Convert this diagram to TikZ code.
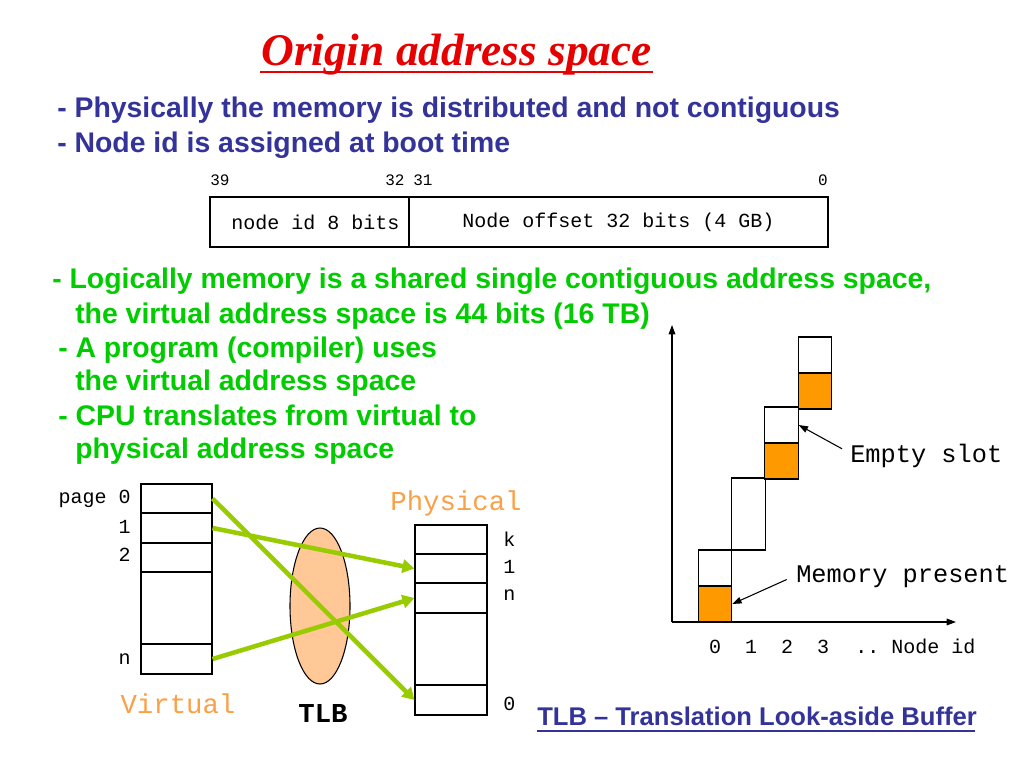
\documentclass[tikz,border=0pt]{standalone}
\usepackage{fontspec}
\setmainfont{Liberation Sans}
\setmonofont{Liberation Mono}
\newfontfamily\titlefont{Liberation Serif}
\usetikzlibrary{arrows.meta,shapes.geometric}
\definecolor{titlered}{RGB}{230,0,0}
\definecolor{textblue}{RGB}{51,51,153}
\definecolor{textgreen}{RGB}{0,204,0}
\definecolor{mapgreen}{RGB}{153,204,0}
\definecolor{tlbfill}{RGB}{255,200,150}
\definecolor{memorange}{RGB}{255,153,0}
\definecolor{labelorange}{RGB}{250,160,70}
\begin{document}
\begin{tikzpicture}[x=.75pt, y=-.75pt,
    txt/.style={inner sep=0, anchor=base west},
    bullet/.style={txt, font=\fontsize{21.3}{25}\selectfont\bfseries},
    mono/.style={inner sep=0, font=\ttfamily\fontsize{#1}{#1}\selectfont},
    cell/.style={draw, line width=.8pt, inner sep=0, minimum width=53.25pt, minimum height=#1},
    slot/.style={draw, line width=.8pt, inner sep=0, minimum width=25pt, minimum height=#1},
    mapping/.style={mapgreen, line width=3.4pt, -{Triangle[length=9pt, width=10pt]}},
    axis/.style={line width=.8pt, -{Triangle[length=7pt, width=5pt]}},
    pointer/.style={line width=.8pt, -{Triangle[length=7pt, width=5pt]}}]
  \useasboundingbox (0,0) rectangle (1024,768);
  % title
  \node[txt, titlered, font=\titlefont\fontsize{34}{40}\selectfont\bfseries\itshape] (title) at (261,65) {Origin address space};
  \draw[titlered, line width=1.9pt] (260,72) -- (653,72);
  % physical layout
  \node[bullet, textblue] (phys1) at (57,117) {- Physically the memory is distributed and not contiguous};
  \node[bullet, textblue] (phys2) at (57,152) {- Node id is assigned at boot time};
  \node[mono=12, anchor=base west] (b39) at (210,185) {39};
  \node[mono=12, anchor=base west] (b32) at (385,185) {32};
  \node[mono=12, anchor=base west] (b31) at (413,185) {31};
  \node[mono=12, anchor=base east] (b0) at (828,185) {0};
  \node[draw, line width=.8pt, inner sep=0, minimum width=149.25pt, minimum height=37.5pt, mono=15] (idfield) at (309.5,222) {\ node id 8 bits};
  \node[draw, line width=.8pt, inner sep=0, minimum width=314.25pt, minimum height=37.5pt, mono=15] (offfield) at (618.5,222) {Node offset 32 bits (4 GB)};
  % logical view
  \node[bullet, textgreen] (log1) at (52,288) {- Logically memory is a shared single contiguous address space,};
  \node[bullet, textgreen] (log2) at (75,323) {the virtual address space is 44 bits (16 TB)};
  \node[bullet, textgreen] (log3) at (58,357) {- A program (compiler) uses};
  \node[bullet, textgreen] (log4) at (75,390) {the virtual address space};
  \node[bullet, textgreen] (log5) at (58,425) {- CPU translates from virtual to};
  \node[bullet, textgreen] (log6) at (75,458) {physical address space};
  % virtual pages
  \node[cell=21.75pt] (v0) at (176.5,498.5) {};
  \node[cell=22.5pt] (v1) at (176.5,528) {};
  \node[cell=21.75pt] (v2) at (176.5,557.5) {};
  \node[cell=54pt] (vgap) at (176.5,608) {};
  \node[cell=22.5pt] (vn) at (176.5,659) {};
  \node[mono=15, anchor=base east] (lp0) at (131,503) {page 0};
  \node[mono=15, anchor=base east] (lp1) at (131,533) {1};
  \node[mono=15, anchor=base east] (lp2) at (131,561) {2};
  \node[mono=15, anchor=base east] (lpn) at (131,664) {n};
  \node[mono=20.5, labelorange, anchor=base] (virt) at (178,713) {Virtual};
  % physical pages
  \node[cell=21.75pt, minimum width=54pt] (pk) at (451,539.5) {};
  \node[cell=21.75pt, minimum width=54pt] (p1) at (451,568.5) {};
  \node[cell=22.5pt, minimum width=54pt] (pn) at (451,598) {};
  \node[cell=54pt, minimum width=54pt] (pgap) at (451,649) {};
  \node[cell=22.5pt, minimum width=54pt] (p0) at (451,700) {};
  \node[mono=15, anchor=base west] (lqk) at (503,546) {k};
  \node[mono=15, anchor=base west] (lq1) at (503,573) {1};
  \node[mono=15, anchor=base west] (lqn) at (503,600) {n};
  \node[mono=15, anchor=base west] (lq0) at (503,710) {0};
  \node[mono=20.5, labelorange, anchor=base] (phys) at (456,510) {Physical};
  % TLB
  \node[ellipse, draw, line width=.8pt, fill=tlbfill, inner sep=0, minimum width=45pt, minimum height=117pt] (tlb) at (320,606) {};
  \node[mono=20.5, anchor=base] (tlblabel) at (323,722) {\bfseries TLB};
  % mappings
  \draw[mapping] (v0.east) -- (p0.west);
  \draw[mapping] (v1.east) -- (p1.west);
  \draw[mapping] (vn.east) -- (pn.west);
  % footnote
  \node[txt, textblue, font=\fontsize{19.2}{23}\selectfont\bfseries] (tlbnote) at (537,725) {TLB -- Translation Look-aside Buffer};
  \draw[textblue, line width=1.2pt] (537,731) -- (975,731);
  % node id chart
  \coordinate (origin) at (672,622);
  \coordinate (ytop) at (672,325);
  \coordinate (xend) at (956,622);
  \draw[axis] (origin) -- (ytop);
  \draw[axis] (origin) -- (xend);
  \node[slot=27pt, fill=memorange] (c0m) at (715,604) {};
  \node[slot=27pt] (c0e) at (715,568) {};
  \node[slot=54pt] (c1) at (748.5,514) {};
  \node[slot=27pt, fill=memorange] (c2m) at (781.5,461) {};
  \node[slot=27pt] (c2e) at (781.5,425) {};
  \node[slot=27pt, fill=memorange] (c3m) at (815,391) {};
  \node[slot=27pt] (c3e) at (815,355) {};
  \node[mono=19, anchor=base west] (empty) at (850,462) {Empty slot};
  \node[mono=19, anchor=base west] (present) at (796,582) {Memory present};
  \draw[pointer] ([xshift=-6pt, yshift=5pt]empty.west) -- (c2e.east);
  \draw[pointer] ([xshift=-7pt, yshift=6pt]present.south west) -- (c0m.east);
  \node[mono=15, anchor=base] (n0) at (715,653) {0};
  \node[mono=15, anchor=base] (n1) at (751,653) {1};
  \node[mono=15, anchor=base] (n2) at (787,653) {2};
  \node[mono=15, anchor=base] (n3) at (823,653) {3};
  \node[mono=15, anchor=base west] (nid) at (855,653) {.. Node id};
\end{tikzpicture}
\end{document}
